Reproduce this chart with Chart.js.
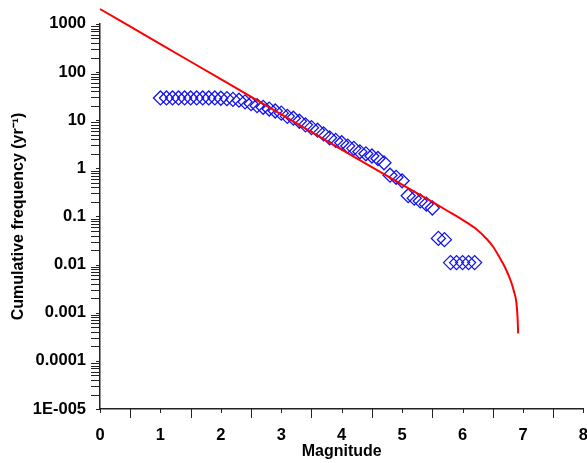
<!DOCTYPE html>
<html>
<head>
<meta charset="utf-8">
<script src="https://cdn.jsdelivr.net/npm/chart.js@4/dist/chart.umd.min.js"></script>
<style>
  html, body { margin: 0; padding: 0; background: #fff; overflow: hidden; }
  #wrap { width: 605px; height: 463px; position: relative; }
</style>
</head>
<body>
<div id="wrap"><canvas id="grafico"></canvas></div>
<script>
// observed data (diamonds)
const magObs = [1.0, 1.1, 1.2, 1.3, 1.4, 1.5, 1.6, 1.7, 1.8, 1.9, 2.0, 2.1, 2.2, 2.3, 2.4, 2.5, 2.6, 2.7, 2.8, 2.9,
                3.0, 3.1, 3.2, 3.3, 3.4, 3.5, 3.6, 3.7, 3.8, 3.9, 4.0, 4.1, 4.2, 4.3, 4.4, 4.5, 4.6, 4.7, 4.8, 4.9,
                5.0, 5.1, 5.2, 5.3, 5.4, 5.5, 5.6, 5.7, 5.8, 5.9, 6.0, 6.1, 6.2];
const freqObs = [29, 29, 29, 29, 29, 29, 29, 29, 29, 29, 28.5, 28, 27, 26, 24, 22, 20, 18.5, 17, 15.5,
                 14, 12, 11, 9.5, 8, 7, 6.2, 5.2, 4.3, 3.8, 3.4, 2.9, 2.6, 2.2, 2.0, 1.8, 1.6, 1.3, 0.72, 0.65,
                 0.55, 0.27, 0.24, 0.21, 0.18, 0.15, 0.035, 0.033, 0.011, 0.011, 0.011, 0.011, 0.011];

// fitted curve (red)
const magCurva = [0, 1, 2, 3, 4, 5, 5.5, 5.8, 6.0, 6.2, 6.4, 6.5, 6.6, 6.7, 6.8, 6.85, 6.89, 6.91, 6.92];
const freqCurva = [2040, 380, 71, 13.2, 2.45, 0.457, 0.20, 0.12, 0.085, 0.058, 0.034, 0.024, 0.015, 0.0089,
                   0.0045, 0.0028, 0.00166, 0.0008, 0.00037];

// axis ticks
const decadas = [1e-5, 1e-4, 1e-3, 0.01, 0.1, 1, 10, 100, 1000];
const rotulosY = ['1E-005', '0.0001', '0.001', '0.01', '0.1', '1', '10', '100', '1000'];
const ticksX = [0, 0.5, 1, 1.5, 2, 2.5, 3, 3.5, 4, 4.5, 5, 5.5, 6, 6.5, 7, 7.5, 8];

const fonte = "'Liberation Sans', Arial, sans-serif";

function pontos(xs, ys) {
    let out = [];
    for (let i = 0; i < xs.length; i++) out.push({ x: xs[i], y: ys[i] });
    return out;
}

// tick marks drawn by hand: short on labelled ticks, long on the others
const marcas = {
    id: 'marcas',
    afterDraw(chart) {
        const ctx = chart.ctx;
        const area = chart.chartArea;
        const sx = chart.scales.x, sy = chart.scales.y;
        ctx.save();
        ctx.strokeStyle = '#222';
        ctx.lineWidth = 1;
        ctx.beginPath();
        sy.ticks.forEach(t => {
            const py = Math.round(sy.getPixelForValue(t.value)) + 0.5;
            const len = t.decada ? 4 : 9;
            ctx.moveTo(area.left, py);
            ctx.lineTo(area.left - len, py);
        });
        sx.ticks.forEach(t => {
            const px = Math.round(sx.getPixelForValue(t.value)) + 0.5;
            const len = Number.isInteger(t.value) ? 4 : 9;
            ctx.moveTo(px, area.bottom);
            ctx.lineTo(px, area.bottom + len);
        });
        ctx.stroke();
        ctx.restore();
    }
};

const config = {
    type: 'scatter',
    data: {
        datasets: [{
            label: 'curva',
            data: pontos(magCurva, freqCurva),
            showLine: true,
            borderColor: '#ff0000',
            borderWidth: 2,
            pointRadius: 0,
            cubicInterpolationMode: 'monotone',
            clip: false
        }, {
            label: 'observado',
            data: pontos(magObs, freqObs),
            showLine: false,
            pointStyle: 'rectRot',
            pointRadius: 7,
            borderColor: '#1414f0',
            backgroundColor: 'rgba(0,0,0,0)',
            borderWidth: 1.3
        }]
    },
    options: {
        responsive: true,
        maintainAspectRatio: false,
        animation: false,
        layout: { padding: { top: 22, right: 4, left: 0, bottom: 0 } },
        plugins: { legend: { display: false }, tooltip: { enabled: false } },
        scales: {
            x: {
                type: 'linear',
                min: 0, max: 8,
                afterBuildTicks: (s) => { s.ticks = ticksX.map(v => ({ value: v })); },
                afterFit: (s) => { s.height = 54; },
                grid: { drawOnChartArea: false, drawTicks: false },
                border: { display: true, color: '#222', width: 1.5 },
                ticks: {
                    autoSkip: false,
                    maxRotation: 0,
                    padding: 17,
                    color: '#000',
                    font: { family: fonte, size: 16.5, weight: 'bold' },
                    callback: (v) => Number.isInteger(v) ? String(v) : ''
                },
                title: {
                    display: true,
                    text: 'Magnitude',
                    color: '#000',
                    font: { family: fonte, size: 16, weight: 'bold' },
                    padding: { top: 0, bottom: 1.5 }
                }
            },
            y: {
                type: 'logarithmic',
                min: 1e-5, max: 1000,
                afterBuildTicks: (s) => {
                    let t = [];
                    decadas.forEach((d, i) => {
                        t.push({ value: d, decada: true });
                        if (i < decadas.length - 1) {
                            for (let k = 2; k <= 9; k++) t.push({ value: d * k, decada: false });
                        }
                    });
                    s.ticks = t;
                },
                afterFit: (s) => { s.width = 100; },
                grid: { drawOnChartArea: false, drawTicks: false },
                border: { display: true, color: '#222', width: 1.5 },
                ticks: {
                    autoSkip: false,
                    padding: 14,
                    color: '#000',
                    font: { family: fonte, size: 16.5, weight: 'bold' },
                    callback: (v, i, ticks) => {
                        if (!ticks[i].decada) return '';
                        return rotulosY[decadas.indexOf(ticks[i].value)];
                    }
                },
                title: {
                    display: true,
                    text: 'Cumulative frequency (yr\u207B\u00B9)',
                    color: '#000',
                    font: { family: fonte, size: 16, weight: 'bold' },
                    padding: { top: 9, bottom: 0 }
                }
            }
        }
    },
    plugins: [marcas]
};

new Chart(document.getElementById('grafico'), config);
</script>
</body>
</html>
